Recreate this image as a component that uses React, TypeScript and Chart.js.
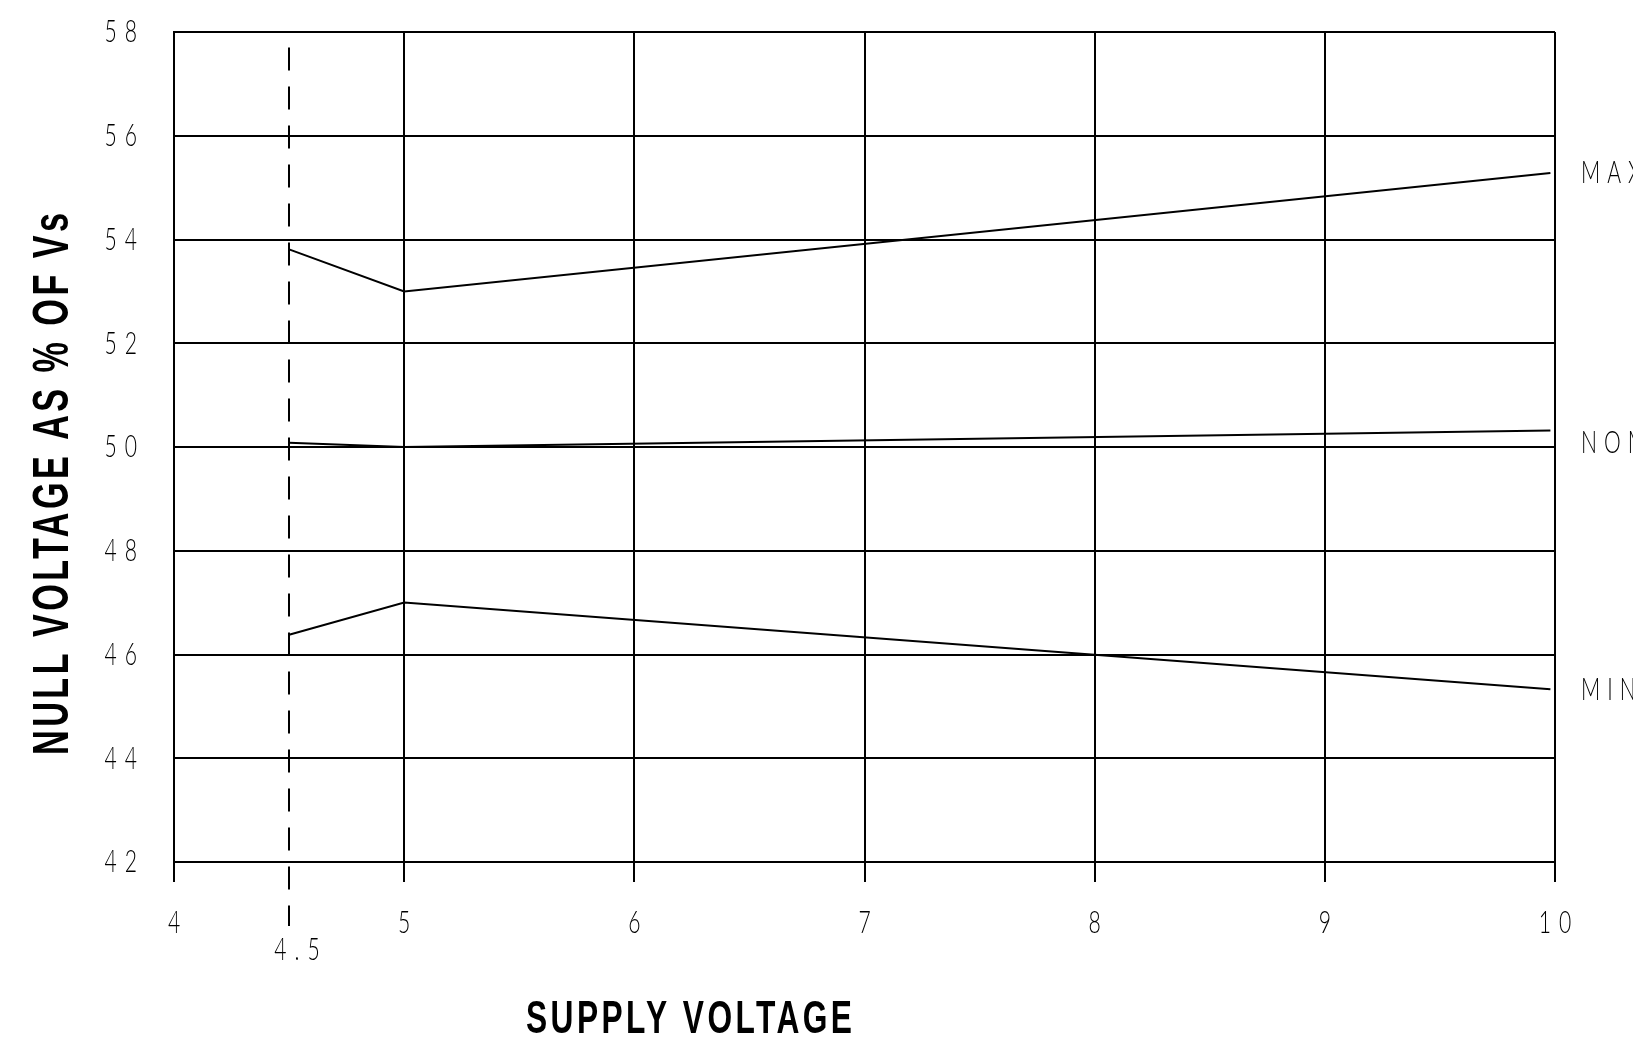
import React, { useEffect, useRef } from "react";
import { Chart, registerables } from "chart.js";

Chart.register(...registerables);

// ---- data ----
const xValues = [4.5, 5, 9.98];
const maxValues = [53.81, 53.0, 55.28];
const nomValues = [50.08, 50.0, 50.32];
const minValues = [46.38, 47.0, 45.33];
const seriesNames = ["MAX", "NOM", "MIN"];
const seriesLabelValues = [55.28, 50.08, 45.33];
const xTicks = [4, 5, 6, 7, 8, 9, 10];
const yTicks = [42, 44, 46, 48, 50, 52, 54, 56, 58];
const markerX = 4.5;
const markerTop = 57.7;
const markerLabel = "4.5";
const xTitle = "SUPPLY VOLTAGE";
const yTitle = "NULL VOLTAGE AS % OF Vs";

const W = 1633;
const H = 1041;
const thinFont = "Lato, 'DejaVu Sans', sans-serif";
const boldFont = "'Liberation Sans', Arial, sans-serif";

function drawThin(
  ctx: CanvasRenderingContext2D,
  text: string,
  x: number,
  y: number,
  align: "left" | "center" | "right",
  spacing: number
) {
  const sx = 0.66;
  ctx.save();
  ctx.font = `300 32px ${thinFont}`;
  const ls = spacing / sx;
  (ctx as any).letterSpacing = `${ls}px`;
  const w = (ctx.measureText(text).width - ls) * sx;
  const left = align === "center" ? x - w / 2 : align === "right" ? x - w : x;
  ctx.translate(left, y);
  ctx.scale(sx, 1);
  ctx.fillStyle = "#000";
  ctx.textAlign = "left";
  ctx.textBaseline = "middle";
  ctx.fillText(text, 0, 0);
  ctx.restore();
}

function drawTitle(
  ctx: CanvasRenderingContext2D,
  text: string,
  cx: number,
  cy: number,
  targetWidth: number,
  fontSize: number,
  spacing: number,
  rotate: boolean
) {
  ctx.save();
  ctx.font = `bold ${fontSize}px ${boldFont}`;
  (ctx as any).letterSpacing = `${spacing}px`;
  const w = ctx.measureText(text).width - spacing;
  const sx = targetWidth / w;
  ctx.translate(cx, cy);
  if (rotate) ctx.rotate(-Math.PI / 2);
  ctx.scale(sx, 1);
  ctx.fillStyle = "#000";
  ctx.textAlign = "left";
  ctx.textBaseline = "middle";
  ctx.fillText(text, -w / 2, 0);
  ctx.restore();
}

const extrasPlugin = {
  id: "extras",
  beforeDraw(chart: any) {
    const ctx = chart.ctx;
    ctx.save();
    ctx.fillStyle = "#fff";
    ctx.fillRect(0, 0, chart.width, chart.height);
    ctx.restore();
  },
  afterDraw(chart: any) {
    const ctx: CanvasRenderingContext2D = chart.ctx;
    const { chartArea } = chart;
    const xs = chart.scales.x;
    const ys = chart.scales.y;

    // tick labels
    xTicks.forEach((v) => {
      drawThin(ctx, String(v), xs.getPixelForValue(v), chartArea.bottom + 61, "center", 8);
    });
    yTicks.forEach((v) => {
      drawThin(ctx, String(v), chartArea.left - 37, ys.getPixelForValue(v), "right", 8);
    });

    // dashed marker line
    const mx = Math.round(xs.getPixelForValue(markerX));
    ctx.save();
    ctx.strokeStyle = "#000";
    ctx.lineWidth = 2;
    ctx.setLineDash([23, 16]);
    ctx.beginPath();
    ctx.moveTo(mx, ys.getPixelForValue(markerTop));
    ctx.lineTo(mx, chartArea.bottom + 64);
    ctx.stroke();
    ctx.restore();

    // marker label
    drawThin(ctx, markerLabel, mx + 8, chartArea.bottom + 88, "center", 8);

    // series labels
    seriesNames.forEach((name, i) => {
      drawThin(ctx, name, chartArea.right + 26, ys.getPixelForValue(seriesLabelValues[i]), "left", 7);
    });

    // axis titles
    drawTitle(ctx, yTitle, chartArea.left - 120, chartArea.top + 452, 542, 50, 5, true);
    drawTitle(ctx, xTitle, chartArea.left + 515, chartArea.bottom + 158, 326, 46, 5, false);
  },
};

export default function App() {
  const canvasRef = useRef<HTMLCanvasElement | null>(null);

  useEffect(() => {
    document.body.style.margin = "0";
    document.body.style.overflow = "hidden";
    const canvas = canvasRef.current;
    if (!canvas) return;

    const mk = (vals: number[]) => xValues.map((x, i) => ({ x, y: vals[i] }));
    const lineStyle = {
      borderColor: "#000",
      borderWidth: 2,
      pointRadius: 0,
      tension: 0,
      fill: false,
    };

    const chart = new Chart(canvas, {
      type: "line",
      data: {
        datasets: [
          { label: seriesNames[0], data: mk(maxValues), ...lineStyle },
          { label: seriesNames[1], data: mk(nomValues), ...lineStyle },
          { label: seriesNames[2], data: mk(minValues), ...lineStyle },
        ],
      },
      options: {
        animation: false,
        responsive: false,
        devicePixelRatio: 1,
        layout: { padding: { top: 32, right: 78, left: 0, bottom: 0 } },
        plugins: { legend: { display: false }, tooltip: { enabled: false } },
        scales: {
          x: {
            type: "linear",
            min: 4,
            max: 10,
            afterBuildTicks: (s: any) => {
              s.ticks = xTicks.map((v) => ({ value: v }));
            },
            afterFit: (s: any) => {
              s.height = 179;
            },
            grid: { color: "#000", lineWidth: 2, drawTicks: true, tickLength: 20, tickColor: "#000" },
            border: { display: true, color: "#000", width: 2 },
            ticks: { display: false, autoSkip: false },
          },
          y: {
            type: "linear",
            min: 42,
            max: 58,
            afterBuildTicks: (s: any) => {
              s.ticks = yTicks.map((v) => ({ value: v }));
            },
            afterFit: (s: any) => {
              s.width = 174;
            },
            grid: { color: "#000", lineWidth: 2, drawTicks: false },
            border: { display: true, color: "#000", width: 2 },
            ticks: { display: false, autoSkip: false },
          },
        },
      } as any,
      plugins: [extrasPlugin],
    });

    return () => chart.destroy();
  }, []);

  return (
    <div style={{ width: W, height: H }}>
      <canvas ref={canvasRef} width={W} height={H} style={{ display: "block" }} />
    </div>
  );
}
